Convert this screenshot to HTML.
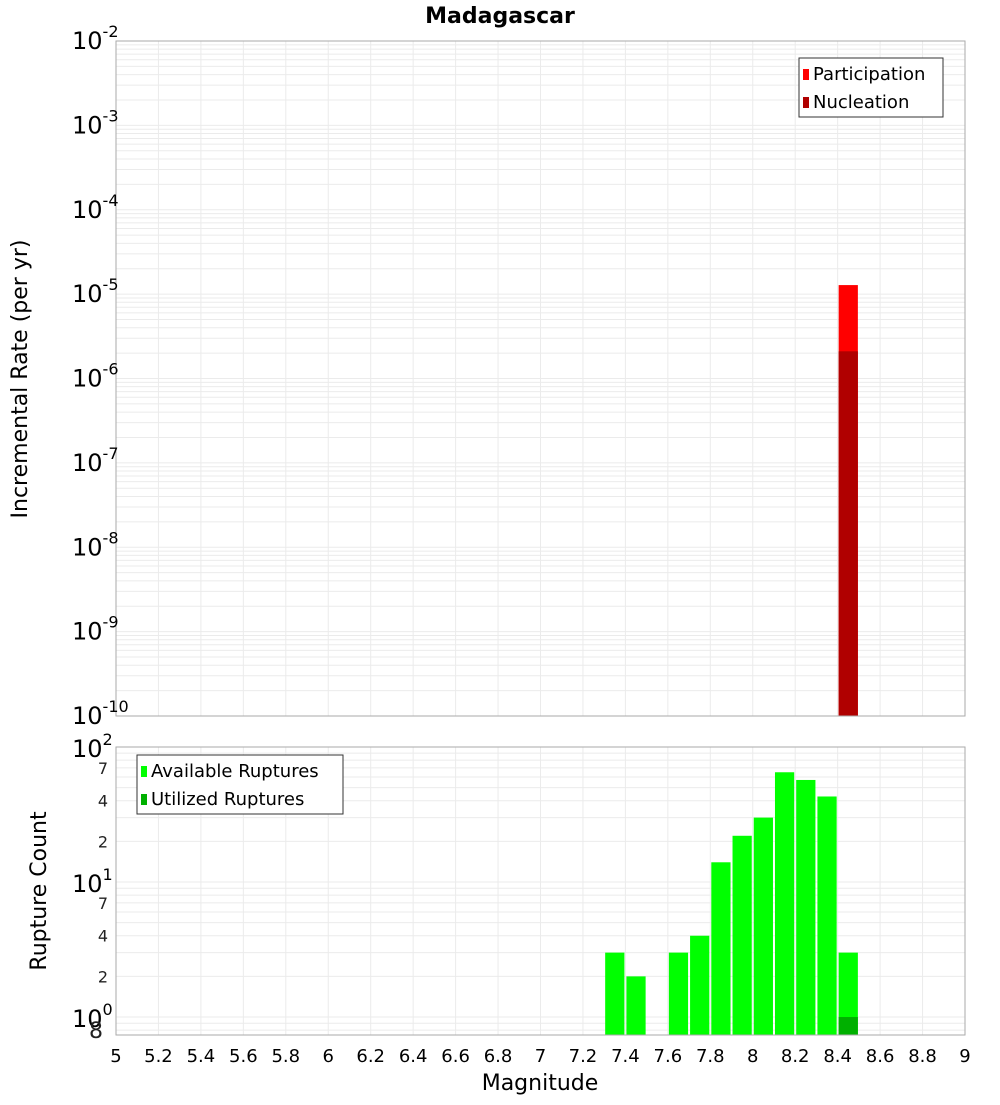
<!DOCTYPE html>
<html><head><meta charset="utf-8"><style>
body{margin:0;background:#fff;font-family:"Liberation Sans","DejaVu Sans",sans-serif}
svg text{font-family:"DejaVu Sans","Liberation Sans",sans-serif}
</style></head><body>
<svg id="c" width="1000" height="1100" xmlns="http://www.w3.org/2000/svg"></svg>
<script>
const topMags=[8.45];
const participation=[1.28e-5];
const nucleation=[2.1e-6];
const botMags=[7.35,7.45,7.65,7.75,7.85,7.95,8.05,8.15,8.25,8.35,8.45];
const available=[3,2,3,4,14,22,30,65,57,43,3];
const utilMags=[8.45];
const utilized=[1];
const xTicks=[5,5.2,5.4,5.6,5.8,6,6.2,6.4,6.6,6.8,7,7.2,7.4,7.6,7.8,8,8.2,8.4,8.6,8.8,9];

const svg=document.getElementById('c');
const NS='http://www.w3.org/2000/svg';
function mk(t,a,p){const e=document.createElementNS(NS,t);for(const k in a)e.setAttribute(k,a[k]);(p||svg).appendChild(e);return e;}
const X0=116,X1=965;
const x=m=>X0+(m-5)/(9-5)*(X1-X0);
const T0=41,T1=716;
const yT=v=>T0+(-2-Math.log10(v))/8*(T1-T0);
const B0=747,B1=1035,BMIN=0.736;
const yB=v=>B0+(2-Math.log10(v))/(2-Math.log10(BMIN))*(B1-B0);

// grids
const g1=mk('g',{});


const g2=mk('g',{});


for(const t of xTicks){
  mk('line',{x1:x(t),x2:x(t),y1:T0,y2:T1,stroke:'#ebebeb'},g1);
  mk('line',{x1:x(t),x2:x(t),y1:B0,y2:B1,stroke:'#ebebeb'},g2);
}
for(let d=-10;d<-2;d++)for(let k=1;k<10;k++){const y=yT(k*Math.pow(10,d));mk('line',{x1:X0,x2:X1,y1:y,y2:y,stroke:'#ebebeb'},g1);}
for(let d=-1;d<2;d++)for(let k=1;k<10;k++){const v=k*Math.pow(10,d);if(v<BMIN)continue;const y=yB(v);mk('line',{x1:X0,x2:X1,y1:y,y2:y,stroke:'#ebebeb'},g2);}

// top bars
topMags.forEach((m,i)=>{
  const r=mk('rect',{x:x(m-0.05)+1,width:x(m+0.05)-x(m-0.05)-2,y:yT(participation[i]),height:T1-yT(participation[i]),fill:'#ff0000'});
  
  
  const n=mk('rect',{x:x(m-0.05)+1,width:x(m+0.05)-x(m-0.05)-2,y:yT(nucleation[i]),height:T1-yT(nucleation[i]),fill:'#b00000'});
  
  
});
// bottom bars
botMags.forEach((m,i)=>{
  const r=mk('rect',{x:x(m-0.05)+1,width:x(m+0.05)-x(m-0.05)-2,y:yB(available[i]),height:B1-yB(available[i]),fill:'#00ff00'});
  
  
});
utilMags.forEach((m,i)=>{
  const r=mk('rect',{x:x(m-0.05)+1,width:x(m+0.05)-x(m-0.05)-2,y:yB(utilized[i]),height:B1-yB(utilized[i]),fill:'#00b000'});
  
  
});
// frames
mk('rect',{x:X0,y:T0,width:X1-X0,height:T1-T0,fill:'none',stroke:'#aaa'});
mk('rect',{x:X0,y:B0,width:X1-X0,height:B1-B0,fill:'none',stroke:'#aaa'});

// top y labels
for(let d=-10;d<=-2;d++){
  const t=mk('text',{x:72,y:yT(Math.pow(10,d))+8,'font-size':24,fill:'#000'});
  
  
  t.innerHTML='10<tspan dy="-12" font-size="16">'+d+'</tspan>';
}
// bottom y labels
for(let d=0;d<=2;d++){
  const t=mk('text',{x:72,y:yB(Math.pow(10,d))+10,'font-size':24,fill:'#000'});
  
  
  t.innerHTML='10<tspan dy="-12" font-size="16">'+d+'</tspan>';
}
const minorLabs=[[7,70],[4,40],[2,20],[7,7],[4,4],[2,2],[8,0.8]];
minorLabs.forEach(([lab,v])=>{
  const big=lab===8;
  const t=mk('text',{x:big?103:108,y:yB(v)+(big?8:6),'font-size':big?22:16,'text-anchor':'end',fill:'#222'});
  
  
  t.textContent=lab;
});
// x labels
xTicks.forEach(t=>{
  const e=mk('text',{x:x(t),y:1062,'font-size':18,'text-anchor':'middle',fill:'#000'});
  
  
  e.textContent=String(t);
});
let e=mk('text',{x:540,y:1090,'font-size':22,'text-anchor':'middle'});


e.textContent='Magnitude';
e=mk('text',{x:500,y:23,'font-size':22,'font-weight':'bold','text-anchor':'middle'});


e.textContent='Madagascar';
e=mk('text',{x:0,y:0,'font-size':22,'text-anchor':'middle',transform:'translate(27,379) rotate(-90)'});


e.textContent='Incremental Rate (per yr)';
e=mk('text',{x:0,y:0,'font-size':22,'text-anchor':'middle',transform:'translate(46,891) rotate(-90)'});


e.textContent='Rupture Count';

// legends
function legend(name,x0,y0,w,items){
  const g=mk('g',{});
  
  
  mk('rect',{x:x0,y:y0,width:w,height:59,fill:'#fff',stroke:'#333'},g);
  items.forEach(([lab,col],i)=>{
    mk('rect',{x:x0+4,y:y0+11+i*28,width:6,height:11,fill:col},g);
    const t=mk('text',{x:x0+14,y:y0+22+i*28,'font-size':18},g);
    
    
    t.textContent=lab;
  });
}
legend('top-legend',799,58,144,[['Participation','#ff0000'],['Nucleation','#b00000']]);
legend('bottom-legend',137,755,206,[['Available Ruptures','#00ff00'],['Utilized Ruptures','#00b000']]);
</script>
</body></html>
